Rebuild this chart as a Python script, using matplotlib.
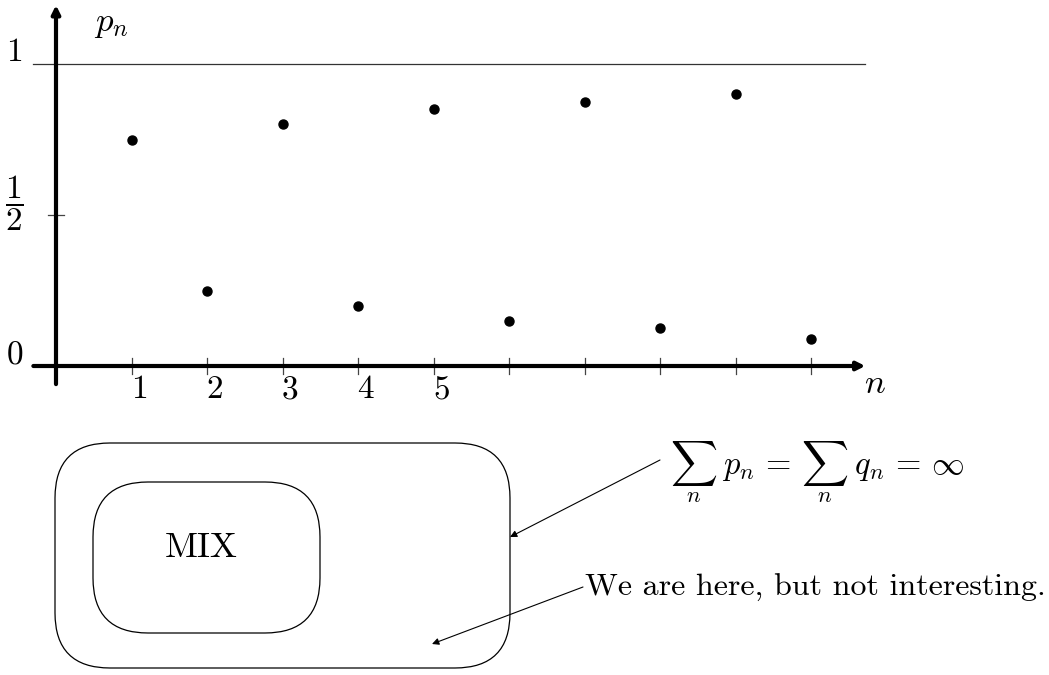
import matplotlib
matplotlib.use("Agg")
import matplotlib.pyplot as plt
from matplotlib.patches import FancyBboxPatch

plt.rcParams['mathtext.fontset'] = 'cm'
plt.rcParams['axes.unicode_minus'] = False

# data
n_odd = [1, 3, 5, 7, 9]
p_odd = [0.75, 0.80, 0.85, 0.875, 0.90]
n_even = [2, 4, 6, 8, 10]
p_even = [0.25, 0.20, 0.15, 0.125, 0.09]
x_ticks = [1, 2, 3, 4, 5, 6, 7, 8, 9, 10]
x_ticklabels = ['1', '2', '3', '4', '5', '', '', '', '', '']
y_ticks = [0, 0.5, 1]
y_ticklabels = ['$0$', r'$\dfrac{1}{2}$', '$1$']

W, H = 1049, 675
fig = plt.figure(figsize=(W / 100, H / 100), dpi=100)

# plot axes: 75.5 px per n, 302 px per unit of p, origin at px (56, 366)
ax = fig.add_axes([0, 0, 1, 1])
ax.set_xlim(-56 / 75.5, (W - 56) / 75.5)
ax.set_ylim((366 - H) / 302, 366 / 302)
ax.axis('off')

xmax = 10.72
ymax = 1.195
# horizontal line at p = 1
ax.plot([-0.3, xmax], [1, 1], color='#333333', lw=0.9)
# axes with arrows
ax.annotate('', xy=(xmax, 0), xytext=(-0.3, 0),
            arrowprops=dict(arrowstyle='-|>', lw=3, color='black',
                            mutation_scale=12, shrinkA=0, shrinkB=0))
ax.annotate('', xy=(0, ymax), xytext=(0, -0.06),
            arrowprops=dict(arrowstyle='-|>', lw=3, color='black',
                            mutation_scale=12, shrinkA=0, shrinkB=0))

# ticks
for t, lab in zip(x_ticks, x_ticklabels):
    ax.plot([t, t], [-0.027, 0.027], color='#444444', lw=0.9)
    if lab:
        ax.text(t + 0.1, -0.075, '$' + lab + '$', fontsize=24,
                ha='center', va='center')
ax.plot([-0.1, 0.1], [0.5, 0.5], color='#444444', lw=0.9)
for v, lab in zip(y_ticks, y_ticklabels):
    ax.text(-0.55, v + 0.04, lab, fontsize=24, ha='center', va='center')

ax.text(xmax + 0.13, -0.055, '$n$', fontsize=25, ha='center', va='center')
ax.text(0.73, 1.135, '$p_n$', fontsize=25, ha='center', va='center')

# points
ax.plot(n_odd, p_odd, 'o', color='black', ms=6.5)
ax.plot(n_even, p_even, 'o', color='black', ms=6.5)

# diagram below, in pixel coords
dx = fig.add_axes([0, 0, 1, 1])
dx.set_xlim(0, W)
dx.set_ylim(H, 0)
dx.axis('off')
dx.patch.set_alpha(0)

r = 55
outer = FancyBboxPatch((55 + r, 443 + r), 455 - 2 * r, 225 - 2 * r,
                       boxstyle='round,pad=%d,rounding_size=%d' % (r, r),
                       fc='none', ec='black', lw=0.9)
inner = FancyBboxPatch((93 + r, 482 + r), 227 - 2 * r, 151 - 2 * r,
                       boxstyle='round,pad=%d,rounding_size=%d' % (r, r),
                       fc='none', ec='black', lw=0.9)
dx.add_patch(outer)
dx.add_patch(inner)
dx.text(201, 548, 'MIX', family='cmr10', fontsize=26, ha='center', va='center')

dx.annotate('', xy=(510, 537), xytext=(660, 460),
            arrowprops=dict(arrowstyle='-|>', lw=0.8, color='black',
                            mutation_scale=10, shrinkA=0, shrinkB=0))
dx.annotate('', xy=(432, 644), xytext=(583, 587),
            arrowprops=dict(arrowstyle='-|>', lw=0.8, color='black',
                            mutation_scale=10, shrinkA=0, shrinkB=0))
dx.text(670, 472, r'$\sum_n\ p_n\,=\,\sum_n\ q_n\,=\,\infty$', fontsize=23.5,
        ha='left', va='center')
dx.text(585, 588, 'We are here, but not interesting.', family='cmr10',
        fontsize=23, ha='left', va='center')

fig.savefig('out.png', dpi=100)
